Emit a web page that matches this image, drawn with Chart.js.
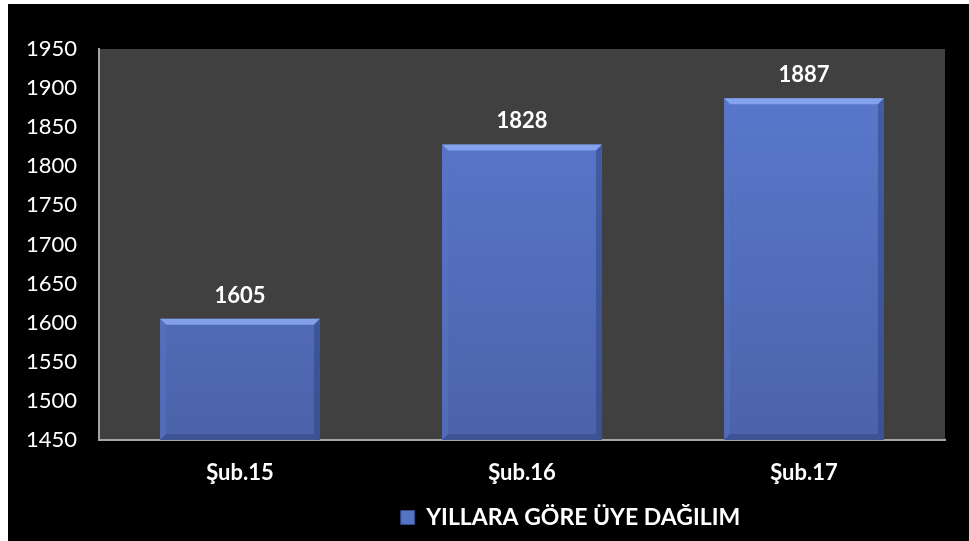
<!DOCTYPE html>
<html>
<head>
<meta charset="utf-8">
<script src="https://cdn.jsdelivr.net/npm/chart.js@4"></script>
<style>
  html,body{margin:0;padding:0;background:#fff;}
  #wrap{width:969px;height:541px;position:relative;}
</style>
</head>
<body>
<div id="wrap"><canvas id="c"></canvas></div>
<script>
// ── veriler ──
const kategoriler = ['Şub.15', 'Şub.16', 'Şub.17'];
const uyeSayisi = [1605, 1828, 1887];
const seriAdi = 'YILLARA GÖRE ÜYE DAĞILIM';
const yMin = 1450, yMax = 1950, yAdim = 50;

const FONT = 'Lato, "DejaVu Sans", sans-serif';

// arka plan: siyah çerçeve + gri çizim alanı
const arkaPlan = {
  id: 'arkaPlan',
  beforeDraw(chart){
    const {ctx, chartArea:a} = chart;
    ctx.save();
    ctx.fillStyle = '#000';
    ctx.fillRect(8, 4, chart.width - 8, chart.height - 4);
    ctx.fillStyle = '#404040';
    ctx.fillRect(a.left, a.top, a.right - a.left, a.bottom - a.top);
    ctx.restore();
  }
};

// lejant orijinalde biraz sağda duruyor
const lejantKaydir = {
  id: 'lejantKaydir',
  afterLayout(chart){
    const lg = chart.legend;
    if(lg){ lg.left += 94; lg.right += 94; }
  }
};

// çubuk kenar efekti + değer etiketleri
const cubukEfekt = {
  id: 'cubukEfekt',
  afterDatasetsDraw(chart){
    const ctx = chart.ctx;
    const meta = chart.getDatasetMeta(0);
    const b = chart.scales.y.getPixelForValue(yMin);
    ctx.save();
    meta.data.forEach((bar, i) => {
      const w = bar.width, l = bar.x - w/2, r = bar.x + w/2, t = bar.y, e = 6;
      // üst kenar
      ctx.fillStyle = 'rgba(140,170,245,0.85)';
      ctx.beginPath();
      ctx.moveTo(l, t); ctx.lineTo(r, t); ctx.lineTo(r - e, t + e); ctx.lineTo(l + e, t + e); ctx.closePath(); ctx.fill();
      // sol kenar
      ctx.fillStyle = 'rgba(90,115,200,0.5)';
      ctx.beginPath();
      ctx.moveTo(l, t); ctx.lineTo(l + e, t + e); ctx.lineTo(l + e, b - e); ctx.lineTo(l, b); ctx.closePath(); ctx.fill();
      // sağ kenar
      ctx.fillStyle = 'rgba(40,60,120,0.45)';
      ctx.beginPath();
      ctx.moveTo(r, t); ctx.lineTo(r - e, t + e); ctx.lineTo(r - e, b - e); ctx.lineTo(r, b); ctx.closePath(); ctx.fill();
      // alt kenar
      ctx.fillStyle = 'rgba(40,55,110,0.35)';
      ctx.beginPath();
      ctx.moveTo(l, b); ctx.lineTo(r, b); ctx.lineTo(r - e, b - e); ctx.lineTo(l + e, b - e); ctx.closePath(); ctx.fill();

      ctx.fillStyle = '#fff';
      ctx.font = 'bold 22px ' + FONT;
      ctx.textAlign = 'center';
      ctx.textBaseline = 'alphabetic';
      ctx.fillText(String(uyeSayisi[i]), bar.x, t - 16);
    });
    ctx.restore();
  }
};

new Chart(document.getElementById('c'), {
  type: 'bar',
  data: {
    labels: kategoriler,
    datasets: [{
      label: seriAdi,
      data: uyeSayisi,
      backgroundColor: c => {
        const a = c.chart.chartArea;
        if(!a) return '#5674c4';
        const g = c.chart.ctx.createLinearGradient(0, a.top, 0, a.bottom);
        g.addColorStop(0, '#5b7bd0');
        g.addColorStop(1, '#4b63aa');
        return g;
      },
      borderWidth: 0,
      categoryPercentage: 1,
      barPercentage: 0.567
    }]
  },
  options: {
    responsive: true,
    maintainAspectRatio: false,
    animation: false,
    layout: { padding: { left: 8, top: 49, right: 24, bottom: 2 } },
    plugins: {
      legend: {
        display: true,
        position: 'bottom',
        labels: {
          color: '#fff',
          font: { family: FONT, size: 23, weight: 'bold' },
          boxWidth: 14, boxHeight: 14, padding: 8,
          generateLabels: ch => [{
            text: seriAdi, fillStyle: '#5674c4', strokeStyle: '#34488a', lineWidth: 1,
            fontColor: '#fff', datasetIndex: 0, hidden: false
          }]
        }
      },
      tooltip: { enabled: false }
    },
    scales: {
      x: {
        grid: { display: false, drawTicks: false },
        border: { display: true, color: '#a6a6a6', width: 2 },
        ticks: { color: '#fff', font: { family: FONT, size: 22, weight: 'bold' }, padding: 20 },
        afterFit: s => { s.height = 58; }
      },
      y: {
        min: yMin, max: yMax,
        grid: { display: false, drawTicks: false },
        border: { display: true, color: '#a6a6a6', width: 2 },
        ticks: { color: '#fff', font: { family: FONT, size: 22 }, stepSize: yAdim, padding: 22, callback: v => String(v) },
        afterFit: s => { s.width = 91; }
      }
    }
  },
  plugins: [arkaPlan, lejantKaydir, cubukEfekt]
});
</script>
</body>
</html>
